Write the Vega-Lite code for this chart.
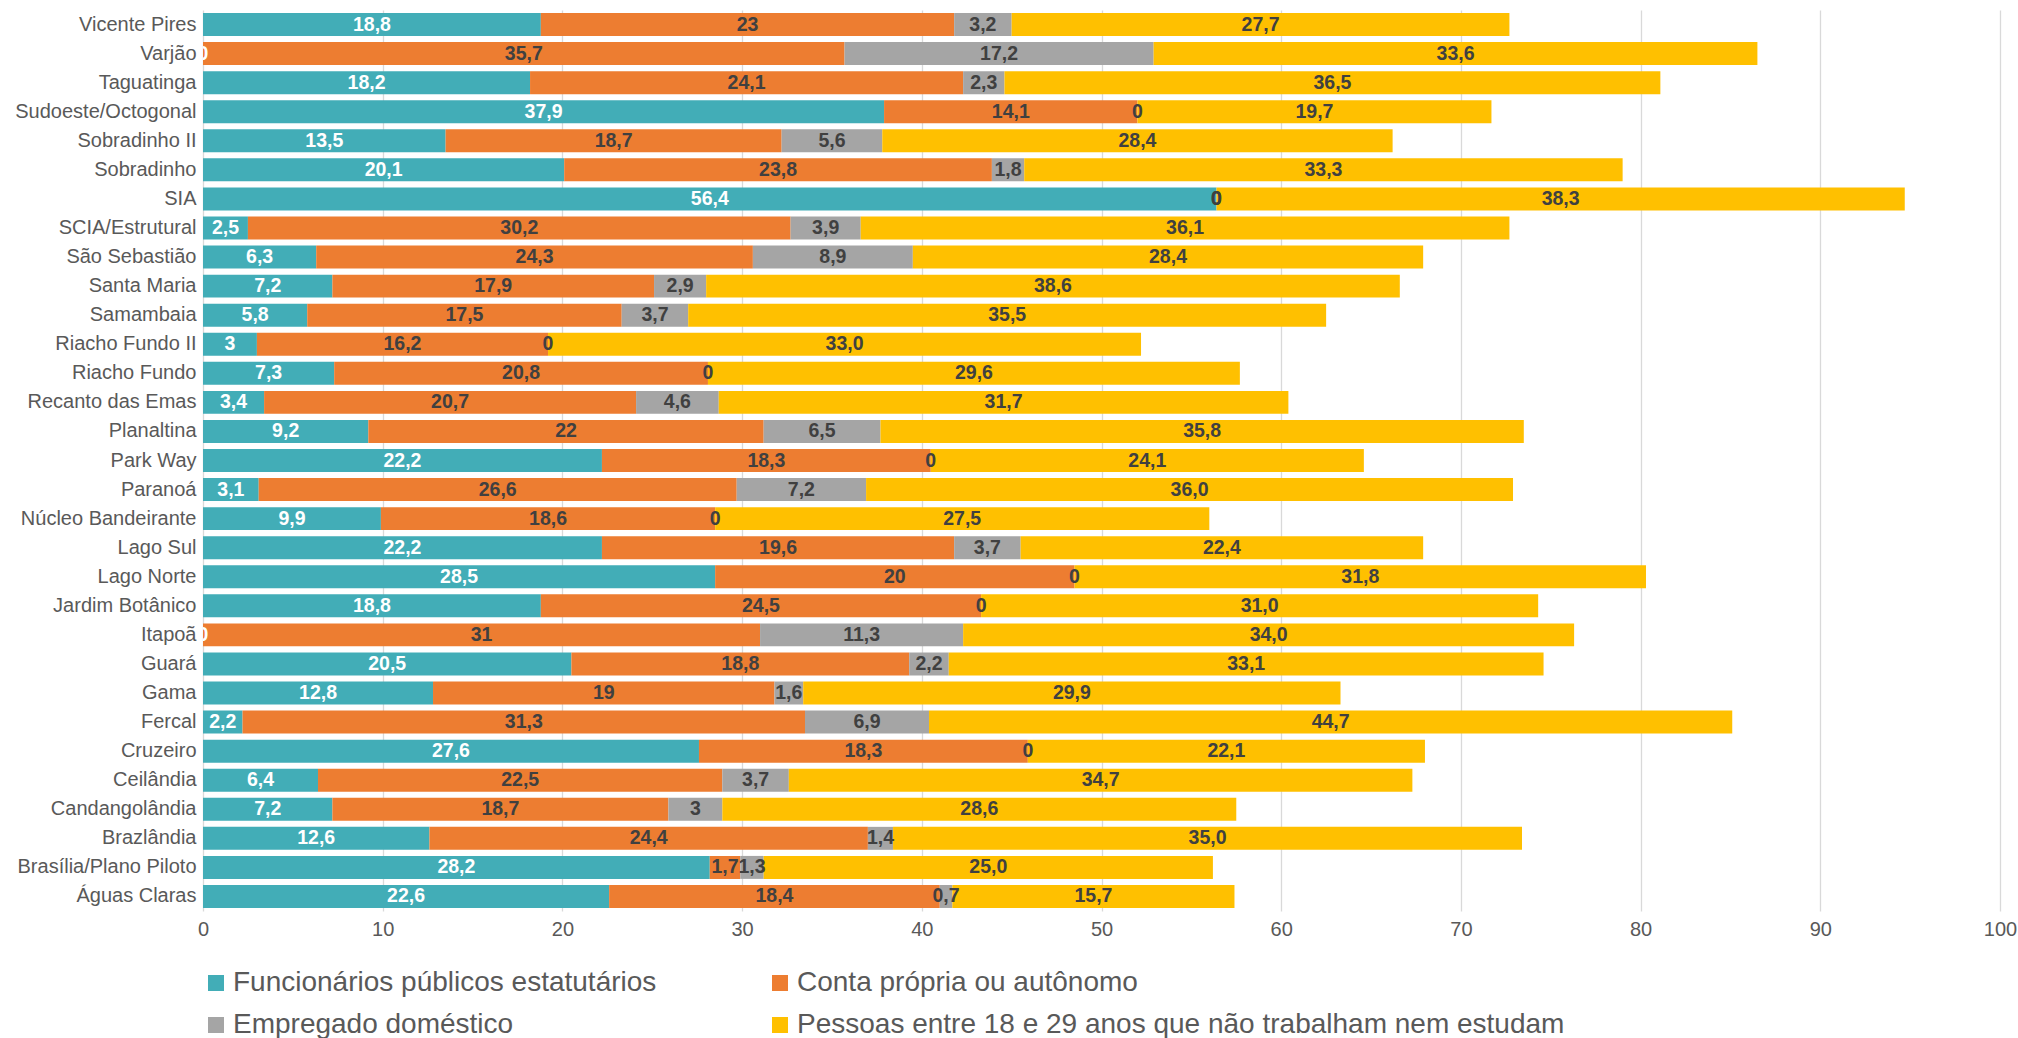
{
  "$schema": "https://vega.github.io/schema/vega-lite/v6.json",
  "width": 1797,
  "height": 901,
  "autosize": {"type": "none"},
  "padding": {"left": 203, "top": 10, "right": 18, "bottom": 127},
  "datasets": {
    "regioes": [
      {"ra": "Vicente Pires", "func": 18.8, "conta": 23, "dom": 3.2, "jovens": 27.7},
      {"ra": "Varjão", "func": 0, "conta": 35.7, "dom": 17.2, "jovens": 33.6},
      {"ra": "Taguatinga", "func": 18.2, "conta": 24.1, "dom": 2.3, "jovens": 36.5},
      {"ra": "Sudoeste/Octogonal", "func": 37.9, "conta": 14.1, "dom": 0, "jovens": 19.7},
      {"ra": "Sobradinho II", "func": 13.5, "conta": 18.7, "dom": 5.6, "jovens": 28.4},
      {"ra": "Sobradinho", "func": 20.1, "conta": 23.8, "dom": 1.8, "jovens": 33.3},
      {"ra": "SIA", "func": 56.4, "conta": 0, "dom": 0, "jovens": 38.3},
      {"ra": "SCIA/Estrutural", "func": 2.5, "conta": 30.2, "dom": 3.9, "jovens": 36.1},
      {"ra": "São Sebastião", "func": 6.3, "conta": 24.3, "dom": 8.9, "jovens": 28.4},
      {"ra": "Santa Maria", "func": 7.2, "conta": 17.9, "dom": 2.9, "jovens": 38.6},
      {"ra": "Samambaia", "func": 5.8, "conta": 17.5, "dom": 3.7, "jovens": 35.5},
      {"ra": "Riacho Fundo II", "func": 3, "conta": 16.2, "dom": 0, "jovens": 33.0},
      {"ra": "Riacho Fundo", "func": 7.3, "conta": 20.8, "dom": 0, "jovens": 29.6},
      {"ra": "Recanto das Emas", "func": 3.4, "conta": 20.7, "dom": 4.6, "jovens": 31.7},
      {"ra": "Planaltina", "func": 9.2, "conta": 22, "dom": 6.5, "jovens": 35.8},
      {"ra": "Park Way", "func": 22.2, "conta": 18.3, "dom": 0, "jovens": 24.1},
      {"ra": "Paranoá", "func": 3.1, "conta": 26.6, "dom": 7.2, "jovens": 36.0},
      {"ra": "Núcleo Bandeirante", "func": 9.9, "conta": 18.6, "dom": 0, "jovens": 27.5},
      {"ra": "Lago Sul", "func": 22.2, "conta": 19.6, "dom": 3.7, "jovens": 22.4},
      {"ra": "Lago Norte", "func": 28.5, "conta": 20, "dom": 0, "jovens": 31.8},
      {"ra": "Jardim Botânico", "func": 18.8, "conta": 24.5, "dom": 0, "jovens": 31.0},
      {"ra": "Itapoã", "func": 0, "conta": 31, "dom": 11.3, "jovens": 34.0},
      {"ra": "Guará", "func": 20.5, "conta": 18.8, "dom": 2.2, "jovens": 33.1},
      {"ra": "Gama", "func": 12.8, "conta": 19, "dom": 1.6, "jovens": 29.9},
      {"ra": "Fercal", "func": 2.2, "conta": 31.3, "dom": 6.9, "jovens": 44.7},
      {"ra": "Cruzeiro", "func": 27.6, "conta": 18.3, "dom": 0, "jovens": 22.1},
      {"ra": "Ceilândia", "func": 6.4, "conta": 22.5, "dom": 3.7, "jovens": 34.7},
      {"ra": "Candangolândia", "func": 7.2, "conta": 18.7, "dom": 3, "jovens": 28.6},
      {"ra": "Brazlândia", "func": 12.6, "conta": 24.4, "dom": 1.4, "jovens": 35.0},
      {"ra": "Brasília/Plano Piloto", "func": 28.2, "conta": 1.7, "dom": 1.3, "jovens": 25.0},
      {"ra": "Águas Claras", "func": 22.6, "conta": 18.4, "dom": 0.7, "jovens": 15.7}
    ],
    "series": [
      {"chave": "func", "nome": "Funcionários públicos estatutários", "ordem": 1},
      {"chave": "conta", "nome": "Conta própria ou autônomo", "ordem": 2},
      {"chave": "dom", "nome": "Empregado doméstico", "ordem": 3},
      {"chave": "jovens", "nome": "Pessoas entre 18 e 29 anos que não trabalham nem estudam", "ordem": 4}
    ]
  },
  "data": {"name": "regioes"},
  "transform": [
    {"fold": ["func", "conta", "dom", "jovens"], "as": ["chave", "valor"]},
    {"lookup": "chave", "from": {"data": {"name": "series"}, "key": "chave", "fields": ["nome", "ordem"]}}
  ],
  "encoding": {
    "y": {
      "field": "ra",
      "type": "nominal",
      "sort": null,
      "scale": {"paddingInner": 0.21, "paddingOuter": 0.105},
      "axis": {
        "title": null,
        "domain": false,
        "ticks": false,
        "labelPadding": 7,
        "labelFontSize": 20,
        "labelColor": "#595959",
        "labelLimit": 400
      }
    },
    "x": {
      "field": "valor",
      "type": "quantitative",
      "stack": "zero",
      "scale": {"domain": [0, 100], "nice": false},
      "axis": {
        "title": null,
        "values": [0, 10, 20, 30, 40, 50, 60, 70, 80, 90, 100],
        "domain": false,
        "ticks": false,
        "grid": true,
        "gridColor": "#d9d9d9",
        "gridWidth": 1.3,
        "labelPadding": 8,
        "labelFontSize": 20,
        "labelColor": "#595959",
        "labelFlush": false
      }
    },
    "order": {"field": "ordem", "type": "quantitative", "sort": "ascending"}
  },
  "layer": [
    {
      "mark": {"type": "bar", "strokeWidth": 0},
      "encoding": {
        "color": {
          "field": "nome",
          "type": "nominal",
          "scale": {
            "domain": [
              "Funcionários públicos estatutários",
              "Conta própria ou autônomo",
              "Empregado doméstico",
              "Pessoas entre 18 e 29 anos que não trabalham nem estudam"
            ],
            "range": ["#42ADB7", "#ED7D31", "#A5A5A5", "#FFC000"]
          },
          "legend": {
            "orient": "none",
            "legendX": -1,
            "legendY": 959,
            "direction": "horizontal",
            "columns": 2,
            "title": null,
            "symbolType": "square",
            "symbolSize": 256,
            "symbolStrokeWidth": 0,
            "symbolOpacity": 1,
            "labelFontSize": 28,
            "labelColor": "#595959",
            "labelOffset": 3,
            "labelLimit": 1000,
            "columnPadding": 109,
            "rowPadding": 14
          }
        }
      }
    },
    {
      "mark": {"type": "text", "fontWeight": "bold", "fontSize": 19.5, "baseline": "middle", "align": "center", "clip": true},
      "encoding": {
        "x": {"field": "valor", "type": "quantitative", "stack": "zero", "bandPosition": 0.5},
        "detail": {"field": "chave"},
        "text": {
          "condition": {"test": "datum.chave !== 'jovens'", "field": "valor", "type": "quantitative", "format": ".1~f"},
          "value": ""
        },
        "color": {
          "condition": {"test": "datum.chave === 'func'", "value": "#ffffff"},
          "value": "#404040"
        }
      }
    },
    {
      "mark": {"type": "text", "fontWeight": "bold", "fontSize": 19.5, "baseline": "middle", "align": "center", "clip": true, "color": "#404040"},
      "encoding": {
        "x": {"field": "valor", "type": "quantitative", "stack": "zero", "bandPosition": 0.5},
        "detail": {"field": "chave"},
        "text": {
          "condition": {"test": "datum.chave === 'jovens'", "field": "valor", "type": "quantitative", "format": ".1f"},
          "value": ""
        }
      }
    }
  ],
  "config": {
    "font": "Liberation Sans",
    "view": {"stroke": null},
    "locale": {
      "number": {"decimal": ",", "thousands": ".", "grouping": [3], "currency": ["R$", ""]}
    },
    "legend": {"labelFont": "Liberation Sans"},
    "axis": {"labelFont": "Liberation Sans"}
  }
}
